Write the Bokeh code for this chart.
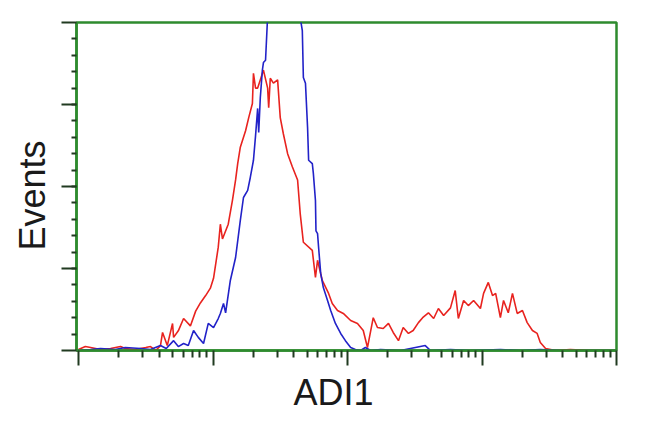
from bokeh.plotting import figure
from bokeh.models import Range1d, FixedTicker, ColumnDataSource, Title
from bokeh.embed import file_html
from bokeh.resources import INLINE

# Flow-cytometry histograms: channel (256 channels per decade, 4 decades) and event counts
red_channel = [0, 13, 23, 42, 61, 80, 89, 108, 128, 137, 147, 156, 160, 169, 179, 181, 190, 200, 213, 223,
               232, 242, 251, 257, 266, 270, 274, 285, 293, 299, 303, 308, 318, 324, 331, 333, 337, 341, 346, 352,
               360, 362, 365, 371, 379, 384, 390, 398, 407, 417, 422, 428, 445, 451, 455, 464, 476, 483, 493, 504,
               518, 531, 542, 550, 561, 569, 580, 590, 599, 609, 618, 628, 637, 647, 655, 666, 676, 685, 695, 708,
               717, 723, 733, 742, 752, 765, 771, 780, 788, 794, 803, 809, 818, 826, 835, 845, 854, 864, 873, 879,
               889, 908, 936, 974, 1023]
red_counts = [0.6, 2.4, 1.8, 0.6, 1.2, 2.4, 1.2, 0.6, 1.8, 2.4, 0, 3, 11, 3, 16.5, 8, 12, 19.5, 15, 24,
              29, 33.5, 38, 44, 63, 77, 68, 77, 91.5, 104, 114, 124, 134, 142, 150.6, 169, 160, 160, 165, 171,
              160, 148, 166, 163, 165, 142, 132, 120, 112, 104, 83.5, 66, 61, 44.5, 55, 42.7, 34.8, 28.7, 24.4, 22.6,
              18.3, 16.5, 12.2, 1.8, 20, 14, 13.4, 16.5, 11, 6, 14, 10.4, 12.2, 17, 20, 23, 19.5, 25.6, 21.3, 26,
              36.6, 19.5, 30.5, 27.4, 30.5, 25.6, 34.8, 41.5, 33.5, 34.8, 20, 30.5, 23, 34.8, 22.6, 24.4, 17, 12.2, 10.4, 4.9,
              1.2, 0, 0.6, 0, 0]

blue_channel = [0, 23, 42, 70, 89, 118, 137, 156, 167, 181, 190, 200, 209, 219, 228, 238, 247, 257, 266, 270,
                276, 280, 289, 299, 308, 314, 322, 327, 333, 337, 341, 343, 346, 350, 352, 356, 360, 369, 381, 394,
                407, 419, 422, 426, 428, 432, 436, 438, 445, 447, 451, 452, 455, 457, 461, 466, 474, 480, 489, 499,
                508, 518, 527, 537, 546, 556, 575, 613, 660, 670, 708, 746, 803, 841, 879, 917, 993, 1023]
blue_counts = [0, 0.6, 1.2, 0.6, 1.8, 1.2, 0.6, 3, 1.2, 6, 2.4, 4.3, 3, 12.2, 8, 4.3, 16.5, 14, 19.5, 22.6,
               28.7, 23, 42.7, 56.7, 79.3, 93.3, 97.6, 105.5, 116, 131, 147.6, 133, 154, 171, 175.6, 177, 204, 230, 250, 255,
               245, 225, 203, 195, 166.5, 163, 136, 116, 114, 108, 91.5, 73, 71.3, 62.8, 47, 38.4, 30.5, 24.4, 16.5, 10.4,
               6, 1.8, 0.6, 0, 1.8, 0, 0.6, 0, 3, 0, 0.6, 0, 0.6, 0, 0.6, 0, 0, 0]

x_major = [1, 10, 100, 1000, 10000]
y_major = [0, 50, 100, 150, 200]

x_label = "ADI1"
y_label = "Events"

green = "#2e8b2e"
tick_col = "#203a20"

red_src = ColumnDataSource(dict(x=[10 ** (c / 256) for c in red_channel], y=red_counts))
blue_src = ColumnDataSource(dict(x=[10 ** (c / 256) for c in blue_channel], y=blue_counts))

p = figure(width=650, height=428, output_backend="svg", toolbar_location=None,
           x_axis_type="log", x_range=Range1d(10 ** (-2 / 134.5), 10000), y_range=Range1d(0, 200),
           min_border_left=76, min_border_right=34, min_border_top=22, min_border_bottom=78)

p.line("x", "y", source=red_src, line_color="#e8231f", line_width=1.6)
p.line("x", "y", source=blue_src, line_color="#2222c8", line_width=1.6)

p.grid.visible = False
p.background_fill_color = "white"
p.border_fill_color = "white"
p.outline_line_color = green
p.outline_line_width = 2.5

x_minor = [m * d for d in x_major[:-1] for m in range(2, 10)]
p.xaxis.ticker = FixedTicker(ticks=x_major, minor_ticks=x_minor)
p.yaxis.ticker = FixedTicker(ticks=y_major, minor_ticks=list(range(10, 200, 10)))

for ax, mout in ((p.xaxis, 7), (p.yaxis, 5)):
    ax.axis_line_color = green
    ax.axis_line_width = 2.5
    ax.major_tick_line_color = tick_col
    ax.minor_tick_line_color = tick_col
    ax.major_tick_line_width = 2
    ax.minor_tick_line_width = 2
    ax.major_tick_out = 15
    ax.major_tick_in = 0
    ax.minor_tick_out = mout
    ax.minor_tick_in = 0
    ax.major_label_text_font_size = "1px"
    ax.major_label_text_color = None
    ax.major_label_standoff = 0

common = dict(text_font="Liberation Sans", text_font_size="36px", text_font_style="normal",
              text_color="#1a1a1a", align="left", vertical_align="middle")
p.add_layout(Title(text=x_label, offset=217, standoff=10, **common), "below")
p.add_layout(Title(text=y_label, offset=100, standoff=16, **common), "left")

open("out.html", "w").write(file_html(p, INLINE))
